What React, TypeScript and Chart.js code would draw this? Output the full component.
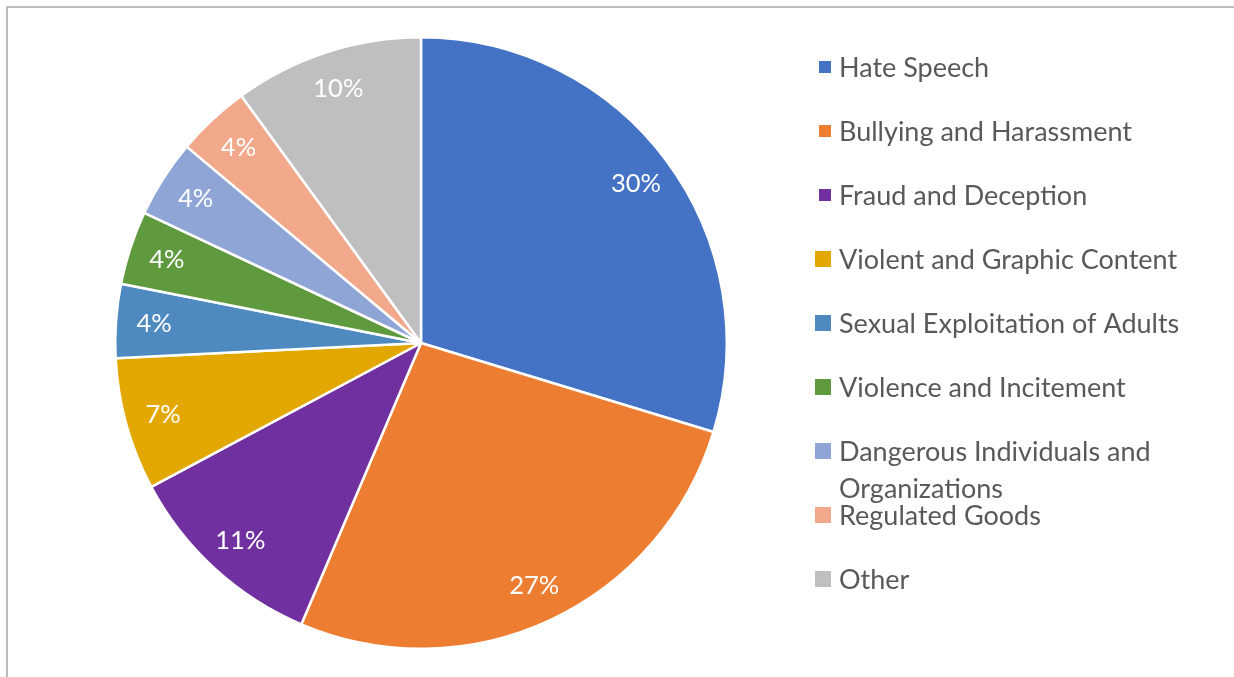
import React, { useEffect, useRef } from "react";
import { Chart, registerables } from "chart.js";

Chart.register(...registerables);

const categories: string[][] = [
  ["Hate Speech"],
  ["Bullying and Harassment"],
  ["Fraud and Deception"],
  ["Violent and Graphic Content"],
  ["Sexual Exploitation of Adults"],
  ["Violence and Incitement"],
  ["Dangerous Individuals and", "Organizations"],
  ["Regulated Goods"],
  ["Other"],
];

const shares: number[] = [29.7, 26.7, 10.8, 7.0, 3.9, 3.9, 4.1, 3.9, 10.0];

const sliceColors: string[] = [
  "#4472C4",
  "#ED7D31",
  "#7030A0",
  "#E3A800",
  "#4E89C0",
  "#5F9A3E",
  "#8FA5D6",
  "#F2A98B",
  "#BFBFBF",
];

const legendBoxSizes: number[] = [12, 12, 12, 16, 16, 16, 16, 16, 16];

const FONT = "Lato, 'Open Sans', sans-serif";

const labelPlugin = {
  id: "sliceLabels",
  afterDatasetsDraw(chart: any) {
    const ctx = chart.ctx;
    const meta = chart.getDatasetMeta(0);
    const data = chart.data.datasets[0].data as number[];
    const total = data.reduce((a, b) => a + b, 0);
    ctx.save();
    ctx.fillStyle = "#FFFFFF";
    ctx.font = `25.5px ${FONT}`;
    ctx.textAlign = "center";
    ctx.textBaseline = "middle";
    meta.data.forEach((arc: any, i: number) => {
      const p = arc.getProps(["x", "y", "startAngle", "endAngle", "outerRadius"], true);
      const mid = (p.startAngle + p.endAngle) / 2;
      const r = p.outerRadius * 0.875;
      const x = p.x + Math.cos(mid) * r;
      const y = p.y + Math.sin(mid) * r;
      ctx.fillText(`${Math.round((data[i] / total) * 100)}%`, x, y);
    });
    ctx.restore();
  },
};

const legendPlugin = {
  id: "sideLegend",
  afterDraw(chart: any) {
    const ctx = chart.ctx;
    ctx.save();
    // chart area border (Excel style)
    ctx.strokeStyle = "#A6A6A6";
    ctx.lineWidth = 1.5;
    ctx.beginPath();
    ctx.moveTo(7, chart.height);
    ctx.lineTo(7, 7);
    ctx.lineTo(chart.width, 7);
    ctx.stroke();

    const x0 = 839;
    const y0 = 67;
    const step = 64;
    const lineH = 37;
    ctx.font = `27px ${FONT}`;
    ctx.textBaseline = "middle";
    ctx.textAlign = "left";
    categories.forEach((lines, i) => {
      const y = y0 + step * i;
      const s = legendBoxSizes[i];
      ctx.fillStyle = sliceColors[i];
      ctx.fillRect(x0 - 8 - s, y - s / 2, s, s);
      ctx.fillStyle = "#595959";
      lines.forEach((t, j) => ctx.fillText(t, x0, y + j * lineH + 1));
    });
    ctx.restore();
  },
};

export default function App() {
  const ref = useRef<HTMLCanvasElement | null>(null);
  useEffect(() => {
    document.body.style.margin = "0";
    if (!ref.current) return;
    const chart = new Chart(ref.current, {
      type: "pie",
      data: {
        labels: categories.map((c) => c.join(" ")),
        datasets: [
          {
            data: shares,
            backgroundColor: sliceColors,
            borderColor: "#FFFFFF",
            borderWidth: 2.5,
          },
        ],
      },
      options: {
        responsive: false,
        animation: false,
        layout: { padding: { left: 114, right: 506, top: 36, bottom: 27 } },
        plugins: {
          legend: { display: false },
          tooltip: { enabled: false },
        },
      },
      plugins: [labelPlugin, legendPlugin],
    });
    return () => chart.destroy();
  }, []);
  return (
    <div style={{ width: 1234, height: 677, background: "#FFFFFF" }}>
      <canvas ref={ref} width={1234} height={677} />
    </div>
  );
}
